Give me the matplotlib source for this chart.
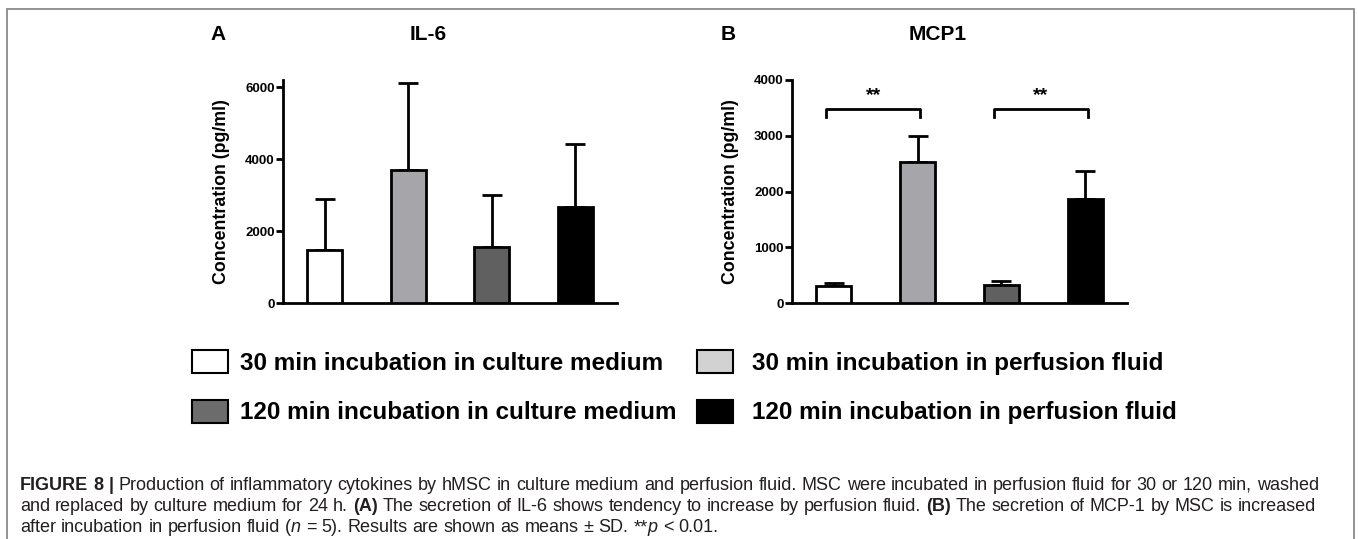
import matplotlib
matplotlib.use("Agg")
import matplotlib.pyplot as plt
from matplotlib.patches import Rectangle

plt.rcParams['font.family'] = ['Liberation Sans', 'DejaVu Sans']

# data
groups = ["30 min culture medium", "30 min perfusion fluid",
          "120 min culture medium", "120 min perfusion fluid"]
il6_mean = [1480, 3700, 1550, 2680]
il6_sd = [1400, 2430, 1450, 1750]
mcp1_mean = [300, 2530, 320, 1870]
mcp1_sd = [50, 470, 80, 490]
il6_ticks = [0, 2000, 4000, 6000]
mcp1_ticks = [0, 1000, 2000, 3000, 4000]
sig_pairs = [(0, 1), (2, 3)]
sig_labels = ["**", "**"]

legend_labels = ["30 min incubation in culture medium",
                 "30 min incubation in perfusion fluid",
                 "120 min incubation in culture medium",
                 "120 min incubation in perfusion fluid"]
bar_colors = ["white", "#a6a6aa", "#606060", "black"]
legend_colors = ["white", "#d2d2d2", "#6c6c6c", "black"]

W, H = 1358, 539
fig = plt.figure(figsize=(W / 100, H / 100), dpi=100)


def fx(x):
    return x / W


def fy(y):
    return 1 - y / H


def style_axis(ax, ticks, ymax):
    x = range(len(groups))
    ax.set_xlim(-0.5, 3.5)
    ax.set_ylim(0, ymax)
    ax.set_yticks(ticks)
    ax.set_yticklabels([str(t) for t in ticks], fontsize=9.5, fontweight="bold")
    ax.set_xticks([])
    for s in ["top", "right"]:
        ax.spines[s].set_visible(False)
    for s in ["left", "bottom"]:
        ax.spines[s].set_linewidth(2)
    ax.tick_params(axis="y", direction="out", length=5, width=2, pad=1)
    ax.set_ylabel("Concentration (pg/ml)", fontsize=12.8, fontweight="bold", labelpad=11)
    return x


# panel A
axA = fig.add_axes([fx(283), fy(303), fx(617) - fx(283), fy(80) - fy(303)])
x = style_axis(axA, il6_ticks, 6200)
axA.bar(x, il6_mean, width=0.42, color=bar_colors, edgecolor="black", linewidth=2, zorder=3)
axA.errorbar(x, il6_mean, yerr=[[0] * 4, il6_sd], fmt="none", ecolor="black",
             elinewidth=2, capsize=7, capthick=2, zorder=2)

# panel B
axB = fig.add_axes([fx(792), fy(303), fx(1127) - fx(792), fy(80) - fy(303)])
x = style_axis(axB, mcp1_ticks, 4000)
axB.bar(x, mcp1_mean, width=0.42, color=bar_colors, edgecolor="black", linewidth=2, zorder=3)
axB.errorbar(x, mcp1_mean, yerr=[[0] * 4, mcp1_sd], fmt="none", ecolor="black",
             elinewidth=2, capsize=7, capthick=2, zorder=2)
for (a, b), lab in zip(sig_pairs, sig_labels):
    x1, x2 = a - 0.09, b + 0.03
    axB.plot([x1, x1, x2, x2], [3330, 3480, 3480, 3330], color="black", lw=2)
    axB.text((x1 + x2) / 2, 3560, lab, ha="center", va="bottom", fontsize=14, fontweight="bold")

# panel labels and titles
fig.text(fx(218), fy(35), "A", fontsize=15, fontweight="bold", ha="center", va="center")
fig.text(fx(428), fy(35), "IL-6", fontsize=15, fontweight="bold", ha="center", va="center")
fig.text(fx(728), fy(35), "B", fontsize=15, fontweight="bold", ha="center", va="center")
fig.text(fx(938), fy(35), "MCP1", fontsize=15, fontweight="bold", ha="center", va="center")

# legend drawn by hand
sq_x = [192, 697]
txt_x = [240, 752]
rows = [(350, 373, 370), (400, 423, 419)]
for i, (lab, col) in enumerate(zip(legend_labels, legend_colors)):
    c, r = i % 2, i // 2
    top, bot, base = rows[r]
    fig.patches.append(Rectangle((fx(sq_x[c]), fy(bot)), fx(36), fy(top) - fy(bot),
                                 facecolor=col, edgecolor="black", lw=1.5,
                                 transform=fig.transFigure))
    fig.text(fx(txt_x[c]), fy(base), lab, fontsize=17.5, fontweight="bold",
             ha="left", va="baseline")

# grey frame around the figure
fig.patches.append(Rectangle((fx(7), -0.05), fx(1354 - 7), fy(9) + 0.05, fill=False,
                             edgecolor="#8a8a8a", lw=1.3, transform=fig.transFigure))

# caption with mixed styles, set piece by piece
caption = [
    [("FIGURE 8 |", "bold", "normal"),
     (" Production of inflammatory cytokines by hMSC in culture medium and perfusion fluid."
      " MSC were incubated in perfusion fluid for 30 or 120 min, washed", "normal", "normal")],
    [("and replaced by culture medium for 24 h.", "normal", "normal"),
     (" (A)", "bold", "normal"),
     (" The secretion of IL-6 shows tendency to increase by perfusion fluid.", "normal", "normal"),
     (" (B)", "bold", "normal"),
     (" The secretion of MCP-1 by MSC is increased", "normal", "normal")],
    [("after incubation in perfusion fluid (", "normal", "normal"),
     ("n", "normal", "italic"),
     (" = 5). Results are shown as means \u00b1 SD. **", "normal", "normal"),
     ("p", "normal", "italic"),
     (" < 0.01.", "normal", "normal")],
]
cap_base = [490, 511, 532]
cap_left = 20
cap_size = 13.0
renderer = fig.canvas.get_renderer()

# width of one space at caption size
sp = fig.text(0, 0, "a a", fontsize=cap_size).get_window_extent(renderer).width
sp -= 2 * fig.text(0, 0, "a", fontsize=cap_size).get_window_extent(renderer).width
for t in fig.texts[-2:]:
    t.remove()

for line, yb in zip(caption, cap_base):
    xpos = cap_left
    first = True
    for seg, wt, st in line:
        parts = seg.split(" ")
        for k, p in enumerate(parts):
            if k > 0 and not first:
                xpos += sp
            if p == "":
                continue
            t = fig.text(fx(xpos), fy(yb), p, fontsize=cap_size, fontweight=wt, fontstyle=st,
                         ha="left", va="baseline", color="#231f20")
            xpos += t.get_window_extent(renderer).width
            first = False

fig.savefig("out.png", dpi=100)
